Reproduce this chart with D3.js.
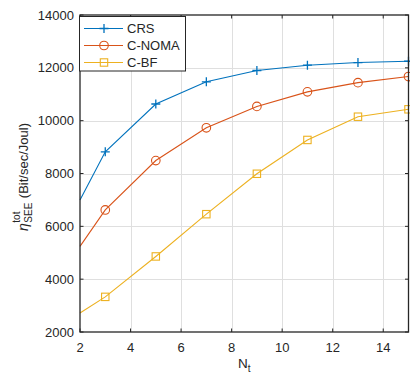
<!DOCTYPE html>
<html>
<head>
<meta charset="utf-8">
<script src="https://cdn.jsdelivr.net/npm/d3@7"></script>
<style>
  html, body { margin: 0; padding: 0; background: #fff; }
  svg text { font-family: "Liberation Sans", Arial, Helvetica, sans-serif; fill: #262626; }
</style>
</head>
<body>
<svg id="chart" width="410" height="376"></svg>
<script>
"use strict";

// data
var nValues = [2, 3, 5, 7, 9, 11, 13, 15];
var crsValues = [7000, 8820, 10630, 11470, 11900, 12100, 12200, 12250];
var nomaValues = [5240, 6620, 8490, 9730, 10540, 11090, 11440, 11670];
var bfValues = [2720, 3330, 4860, 6460, 7990, 9270, 10150, 10430];
var seriesNames = ["CRS", "C-NOMA", "C-BF"];
var seriesColors = ["#0072BD", "#D95319", "#EDB120"];
var seriesMarkers = ["plus", "circle", "square"];
var xTicks = [2, 4, 6, 8, 10, 12, 14];
var yTicks = [2000, 4000, 6000, 8000, 10000, 12000, 14000];

var svg = d3.select("#chart");
var plotL = 80, plotR = 408.5, plotT = 15, plotB = 332;

var x = d3.scaleLinear().domain([2, 15]).range([plotL, plotR]);
var y = d3.scaleLinear().domain([2000, 14000]).range([plotB, plotT]);

var axisColor = "#262626";
var gridColor = "#dfdfdf";

// grid
var grid = svg.append("g").attr("class", "grid");
grid.selectAll("line.gx")
  .data(xTicks.slice(1))
  .enter().append("line")
  .attr("x1", function(d) { return Math.round(x(d)) + 0.5; })
  .attr("x2", function(d) { return Math.round(x(d)) + 0.5; })
  .attr("y1", plotT).attr("y2", plotB)
  .attr("stroke", gridColor);
grid.selectAll("line.gy")
  .data(yTicks.slice(1, -1))
  .enter().append("line")
  .attr("y1", function(d) { return Math.round(y(d)) + 0.5; })
  .attr("y2", function(d) { return Math.round(y(d)) + 0.5; })
  .attr("x1", plotL).attr("x2", plotR)
  .attr("stroke", gridColor);

// series
var series = [crsValues, nomaValues, bfValues];
var line = d3.line()
  .x(function(d, i) { return x(nValues[i]); })
  .y(function(d) { return y(d); });

function drawMarkers(g, pts, type, color) {
  pts.forEach(function(p) {
    if (type === "plus") {
      g.append("path")
        .attr("d", "M" + (p[0] - 4.5) + "," + p[1] + "H" + (p[0] + 4.5) +
                   "M" + p[0] + "," + (p[1] - 4.5) + "V" + (p[1] + 4.5))
        .attr("stroke", color).attr("stroke-width", 1.3).attr("fill", "none");
    } else if (type === "circle") {
      g.append("circle")
        .attr("cx", p[0]).attr("cy", p[1]).attr("r", 4.3)
        .attr("stroke", color).attr("stroke-width", 1.1).attr("fill", "none");
    } else {
      g.append("rect")
        .attr("x", p[0] - 3.7).attr("y", p[1] - 3.7)
        .attr("width", 7.4).attr("height", 7.4)
        .attr("stroke", color).attr("stroke-width", 1.1).attr("fill", "none");
    }
  });
}

series.forEach(function(vals, k) {
  var g = svg.append("g").attr("class", "series");
  g.append("path")
    .attr("d", line(vals))
    .attr("fill", "none")
    .attr("stroke", seriesColors[k])
    .attr("stroke-width", 1.1);

  // markers on the odd N points only
  var pts = vals.map(function(v, i) { return [x(nValues[i]), y(v)]; })
    .filter(function(p, i) { return nValues[i] % 2 === 1; });
  drawMarkers(g, pts, seriesMarkers[k], seriesColors[k]);
});

// axes box and ticks (ticks inside on all four sides)
var axes = svg.append("g").attr("class", "axes");
axes.append("rect")
  .attr("x", plotL).attr("y", plotT)
  .attr("width", plotR - plotL).attr("height", plotB - plotT)
  .attr("fill", "none").attr("stroke", axisColor).attr("stroke-width", 1.3);

var tickLen = 3.5;
xTicks.forEach(function(t) {
  var xp = x(t);
  axes.append("line").attr("x1", xp).attr("x2", xp)
    .attr("y1", plotB).attr("y2", plotB - tickLen).attr("stroke", axisColor);
  axes.append("line").attr("x1", xp).attr("x2", xp)
    .attr("y1", plotT).attr("y2", plotT + tickLen).attr("stroke", axisColor);
});
yTicks.forEach(function(t) {
  var yp = y(t);
  axes.append("line").attr("y1", yp).attr("y2", yp)
    .attr("x1", plotL).attr("x2", plotL + tickLen).attr("stroke", axisColor);
  axes.append("line").attr("y1", yp).attr("y2", yp)
    .attr("x1", plotR).attr("x2", plotR - tickLen).attr("stroke", axisColor);
});

// tick labels
axes.selectAll("text.xt")
  .data(xTicks)
  .enter().append("text")
  .attr("x", function(d) { return x(d); })
  .attr("y", 352)
  .attr("text-anchor", "middle")
  .attr("font-size", 13)
  .text(function(d) { return d; });

axes.selectAll("text.yt")
  .data(yTicks)
  .enter().append("text")
  .attr("x", plotL - 6)
  .attr("y", function(d) { return y(d) + 4.5; })
  .attr("text-anchor", "end")
  .attr("font-size", 13)
  .text(function(d) { return d; });

// x label: N_t
var xl = svg.append("text")
  .attr("x", (plotL + plotR) / 2)
  .attr("y", 368)
  .attr("text-anchor", "middle")
  .attr("font-size", 13.5);
xl.append("tspan").text("N");
xl.append("tspan").attr("font-size", 10).attr("dy", 4).text("t");

// y label: eta_SEE^tot (Bit/sec/Joul), rotated
var yl = svg.append("g").attr("transform", "translate(28,177) rotate(-90)");
var eta = yl.append("text").attr("font-size", 14).attr("font-style", "italic").attr("x", 0).text("\u03B7");
var etaW = eta.node().getComputedTextLength();
var sub = yl.append("text").attr("font-size", 10).attr("x", etaW + 0.5).attr("y", 4).text("SEE");
var subW = sub.node().getComputedTextLength();
yl.append("text").attr("font-size", 10).attr("x", etaW + 0.5).attr("y", -8).text("tot");
var restX = etaW + subW + 5;
var rest = yl.append("text").attr("font-size", 13).attr("x", restX).text("(Bit/sec/Joul)");
var totalW = restX + rest.node().getComputedTextLength();
yl.selectAll("text").each(function() {
  var t = d3.select(this);
  t.attr("x", +t.attr("x") - totalW / 2);
});

// legend
var legend = svg.append("g").attr("class", "legend");
legend.append("rect")
  .attr("x", 79.5).attr("y", 16.5)
  .attr("width", 106).attr("height", 54.5)
  .attr("fill", "#fff").attr("stroke", axisColor).attr("stroke-width", 1);
var rowY = [28.5, 45.5, 62.5];
seriesNames.forEach(function(name, k) {
  var ry = rowY[k];
  legend.append("line")
    .attr("x1", 84).attr("x2", 123).attr("y1", ry).attr("y2", ry)
    .attr("stroke", seriesColors[k]).attr("stroke-width", 1.1);
  drawMarkers(legend, [[104, ry]], seriesMarkers[k], seriesColors[k]);
  legend.append("text")
    .attr("x", 127).attr("y", ry + 4.7)
    .attr("font-size", 13)
    .text(name);
});
</script>
</body>
</html>
